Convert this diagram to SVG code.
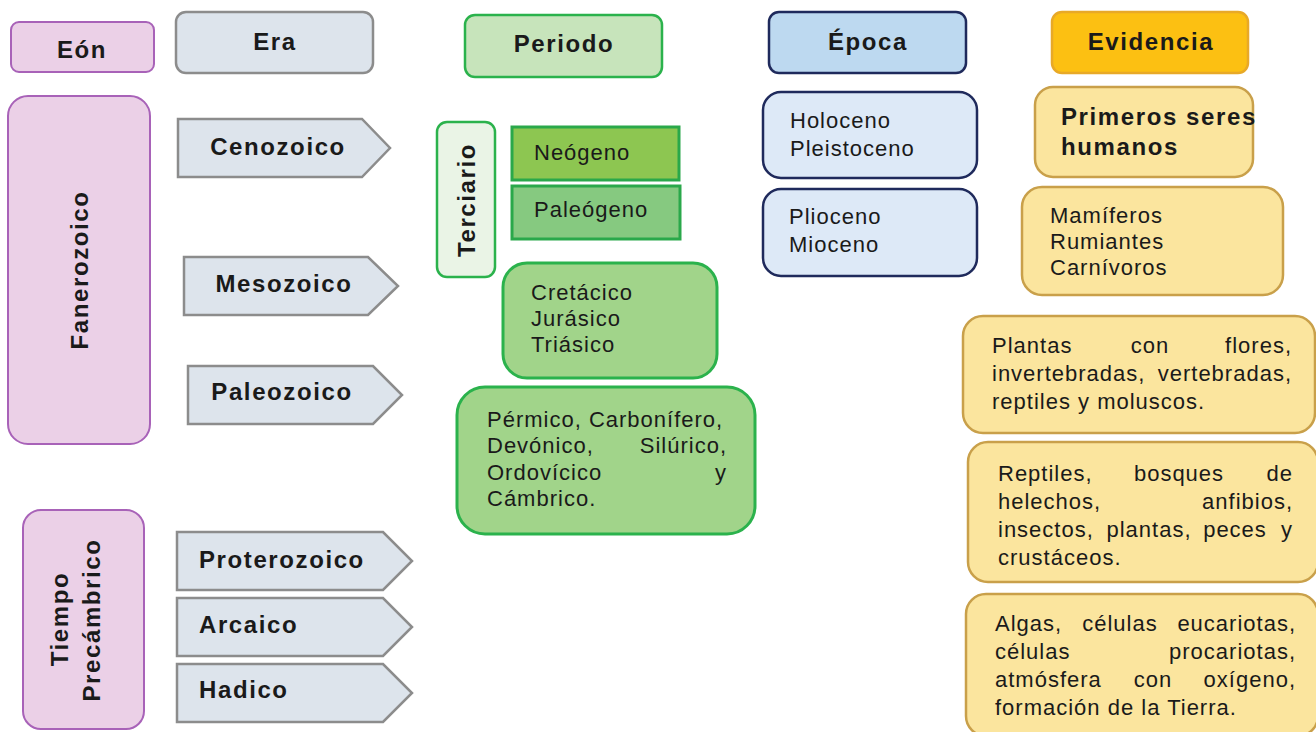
<svg xmlns="http://www.w3.org/2000/svg" width="1316" height="732" viewBox="0 0 1316 732">
<style>
text{font-family:"Liberation Sans",Arial,sans-serif;fill:#1a1a1a}
.b{font-weight:bold;font-size:24px;letter-spacing:1.6px}
.r{font-size:22px;letter-spacing:1px}
.eon{fill:#ebd0e7;stroke:#a862b8;stroke-width:2}
.era{fill:#dde4ec;stroke:#8c8c8c;stroke-width:2.5}
.per{fill:#c7e4bb;stroke:#2bb24c;stroke-width:2.5}
.gr{fill:#a1d48a;stroke:#2bb24c;stroke-width:3}
.ep{fill:#bdd9f0;stroke:#1f2a5c;stroke-width:2.5}
.epl{fill:#dde9f7;stroke:#1f2a5c;stroke-width:2.5}
.ev{fill:#fcc012;stroke:#e8a927;stroke-width:2.5}
.evl{fill:#fbe59e;stroke:#c9a04a;stroke-width:2.5}
.s{text-anchor:start}.m{text-anchor:middle}.e{text-anchor:end}
</style>
<rect width="1316" height="732" fill="#ffffff"/>
<g id="connectors"></g>

<g id="eon-header"><rect class="eon" x="11" y="22" width="143" height="50" rx="8"/><text class="b m" x="82" y="58">Eón</text></g>
<g id="era-header"><rect class="era" x="176" y="12" width="197" height="61" rx="10"/><text class="b m" x="275" y="50">Era</text></g>
<g id="periodo-header"><rect class="per" x="465" y="15" width="197" height="62" rx="10"/><text class="b m" x="564" y="52">Periodo</text></g>
<g id="epoca-header"><rect class="ep" x="769" y="12" width="197" height="61" rx="10"/><text class="b m" x="868" y="50">Época</text></g>
<g id="evidencia-header"><rect class="ev" x="1052" y="12" width="196" height="61" rx="10"/><text class="b m" x="1151" y="50">Evidencia</text></g>

<g id="fanerozoico"><rect class="eon" x="8" y="96" width="142" height="348" rx="20"/><text class="b m" transform="translate(88,270) rotate(-90)">Fanerozoico</text></g>
<g id="precambrico"><rect class="eon" x="23" y="510" width="121" height="219" rx="18"/><text class="b m" transform="translate(68,619) rotate(-90)">Tiempo</text><text class="b m" transform="translate(100,620) rotate(-90)">Precámbrico</text></g>

<g id="cenozoico"><polygon class="era" points="178,119 362,119 390,148 362,177 178,177"/><text class="b m" x="278" y="155">Cenozoico</text></g>
<g id="mesozoico"><polygon class="era" points="184,257 368,257 398,286 368,315 184,315"/><text class="b m" x="284" y="292">Mesozoico</text></g>
<g id="paleozoico"><polygon class="era" points="188,366 373,366 402,395 373,424 188,424"/><text class="b m" x="282" y="400">Paleozoico</text></g>
<g id="proterozoico"><polygon class="era" points="177,532 383,532 412,561 383,590 177,590"/><text class="b s" x="199" y="568">Proterozoico</text></g>
<g id="arcaico"><polygon class="era" points="177,598 383,598 412,627 383,656 177,656"/><text class="b s" x="199" y="633">Arcaico</text></g>
<g id="hadico"><polygon class="era" points="177,664 383,664 412,693 383,722 177,722"/><text class="b s" x="199" y="698">Hadico</text></g>

<g id="terciario"><rect x="437" y="122" width="58" height="155" rx="10" fill="#eaf4e6" stroke="#2bb24c" stroke-width="2.5"/><text class="b m" transform="translate(475,200) rotate(-90)">Terciario</text></g>
<g id="neogeno"><rect x="512" y="127" width="167" height="53" fill="#8dc651" stroke="#2aa84a" stroke-width="3"/><text class="r s" x="534" y="160">Neógeno</text></g>
<g id="paleogeno"><rect x="512" y="186" width="168" height="53" fill="#86c980" stroke="#2aa84a" stroke-width="3"/><text class="r s" x="534" y="217">Paleógeno</text></g>
<g id="mesozoico-periodos"><rect class="gr" x="503" y="263" width="214" height="115" rx="24"/>
<text class="r s" x="531" y="300">Cretácico</text><text class="r s" x="531" y="326">Jurásico</text><text class="r s" x="531" y="352">Triásico</text></g>
<g id="paleozoico-periodos"><rect class="gr" x="457" y="387" width="298" height="147" rx="28"/>
<text class="r s" x="487" y="427">Pérmico, Carbonífero,</text>
<text class="r s" x="487" y="453">Devónico,</text><text class="r e" x="727" y="453">Silúrico,</text>
<text class="r s" x="487" y="480">Ordovícico</text><text class="r e" x="727" y="480">y</text>
<text class="r s" x="487" y="506">Cámbrico.</text></g>

<g id="holoceno"><rect class="epl" x="763" y="92" width="214" height="86" rx="18"/><text class="r s" x="790" y="128">Holoceno</text><text class="r s" x="790" y="156">Pleistoceno</text></g>
<g id="plioceno"><rect class="epl" x="763" y="189" width="214" height="87" rx="18"/><text class="r s" x="789" y="224">Plioceno</text><text class="r s" x="789" y="252">Mioceno</text></g>

<g id="ev-humanos"><rect class="evl" x="1035" y="87" width="218" height="90" rx="18"/><text class="b s" x="1061" y="125">Primeros seres</text><text class="b s" x="1061" y="155">humanos</text></g>
<g id="ev-mamiferos"><rect class="evl" x="1022" y="187" width="261" height="108" rx="20"/><text class="r s" x="1050" y="223">Mamíferos</text><text class="r s" x="1050" y="249">Rumiantes</text><text class="r s" x="1050" y="275">Carnívoros</text></g>
<g id="ev-plantas"><rect class="evl" x="963" y="316" width="352" height="117" rx="20"/>
<text class="r s" x="992" y="353">Plantas</text><text class="r m" x="1150" y="353">con</text><text class="r e" x="1292" y="353">flores,</text>
<text class="r s" x="992" y="381">invertebradas,</text><text class="r e" x="1292" y="381">vertebradas,</text>
<text class="r s" x="992" y="409">reptiles y moluscos.</text></g>
<g id="ev-reptiles"><rect class="evl" x="968" y="442" width="350" height="140" rx="20"/>
<text class="r s" x="998" y="481">Reptiles,</text><text class="r m" x="1179" y="481">bosques</text><text class="r e" x="1293" y="481">de</text>
<text class="r s" x="998" y="509">helechos,</text><text class="r e" x="1293" y="509">anfibios,</text>
<text class="r s" x="998" y="537">insectos,</text><text class="r m" x="1149" y="537">plantas,</text><text class="r m" x="1235" y="537">peces</text><text class="r e" x="1293" y="537">y</text>
<text class="r s" x="998" y="565">crustáceos.</text></g>
<g id="ev-algas"><rect class="evl" x="966" y="594" width="352" height="142" rx="20"/>
<text class="r s" x="995" y="631">Algas,</text><text class="r m" x="1120" y="631">células</text><text class="r e" x="1296" y="631">eucariotas,</text>
<text class="r s" x="995" y="659">células</text><text class="r e" x="1296" y="659">procariotas,</text>
<text class="r s" x="995" y="687">atmósfera</text><text class="r m" x="1153" y="687">con</text><text class="r e" x="1296" y="687">oxígeno,</text>
<text class="r s" x="995" y="715">formación de la Tierra.</text></g>
</svg>
